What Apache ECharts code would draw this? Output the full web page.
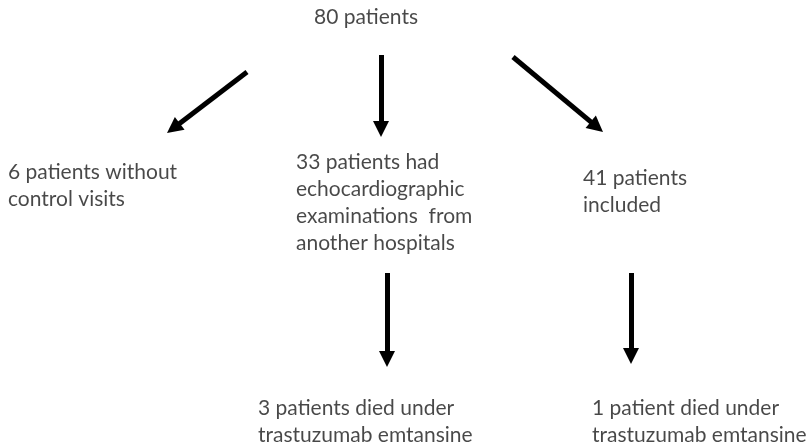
<!DOCTYPE html>
<html>
<head>
<meta charset="utf-8">
<script src="https://cdn.jsdelivr.net/npm/echarts@6/dist/echarts.min.js"></script>
<style>
  html, body { margin: 0; padding: 0; background: #fff; }
  #chart { width: 809px; height: 445px; }
</style>
</head>
<body>
<div id="chart"></div>
<script>
// flow boxes: left x and centre y of the first text line
const nodeNames = ['top', 'noVisits', 'otherHosp', 'included', 'diedA', 'diedB'];
const nodeX = [314, 8, 296, 583, 258, 592];
const nodeY = [17, 172, 162, 178, 408, 408];
const nodeText = [
  '80 patients',
  '6 patients without\ncontrol visits',
  '33 patients had\nechocardiographic\nexaminations  from\nanother hospitals',
  '41 patients\nincluded',
  '3 patients died under\ntrastuzumab emtansine',
  '1 patient died under\ntrastuzumab emtansine'
];
const lineH = 27;

// arrows: start point and tip
const arrowFrom = [[247, 72], [381, 55], [513, 57], [387, 273], [631, 273]];
const arrowTip = [[167, 133], [381, 137], [603, 132], [387, 367], [631, 364]];

const headLen = 16;

const textData = nodeNames.map(function (n, i) {
  return { name: n, value: [nodeX[i], nodeY[i] - lineH / 2] };
});

// stop the shaft at the middle of the head so the triangle tip lands on the tip point
const arrowData = arrowFrom.map(function (f, i) {
  const t = arrowTip[i];
  const dx = t[0] - f[0], dy = t[1] - f[1];
  const len = Math.sqrt(dx * dx + dy * dy);
  const k = (len - headLen / 2) / len;
  return { coords: [f, [f[0] + dx * k, f[1] + dy * k]] };
});

const myChart = echarts.init(document.getElementById('chart'));
const option = {
  backgroundColor: '#fff',
  animation: false,
  grid: { left: 0, right: 0, top: 0, bottom: 0 },
  xAxis: { type: 'value', min: 0, max: 809, show: false },
  yAxis: { type: 'value', min: 0, max: 445, inverse: true, show: false },
  series: [
    {
      type: 'lines',
      coordinateSystem: 'cartesian2d',
      symbol: ['none', 'triangle'],
      symbolSize: [16, headLen],
      lineStyle: { color: '#000', width: 5, opacity: 1, curveness: 0 },
      data: arrowData,
      z: 2
    },
    {
      type: 'scatter',
      symbolSize: 0,
      data: textData,
      label: {
        show: true,
        position: [0, 0],
        align: 'left',
        verticalAlign: 'top',
        fontFamily: 'Lato',
        fontSize: 21,
        lineHeight: lineH,
        color: '#1a1a1a',
        formatter: function (p) { return nodeText[p.dataIndex]; }
      },
      z: 3
    }
  ]
};
myChart.setOption(option);
window.addEventListener('resize', function () {
  myChart.resize();
});
</script>
</body>
</html>
